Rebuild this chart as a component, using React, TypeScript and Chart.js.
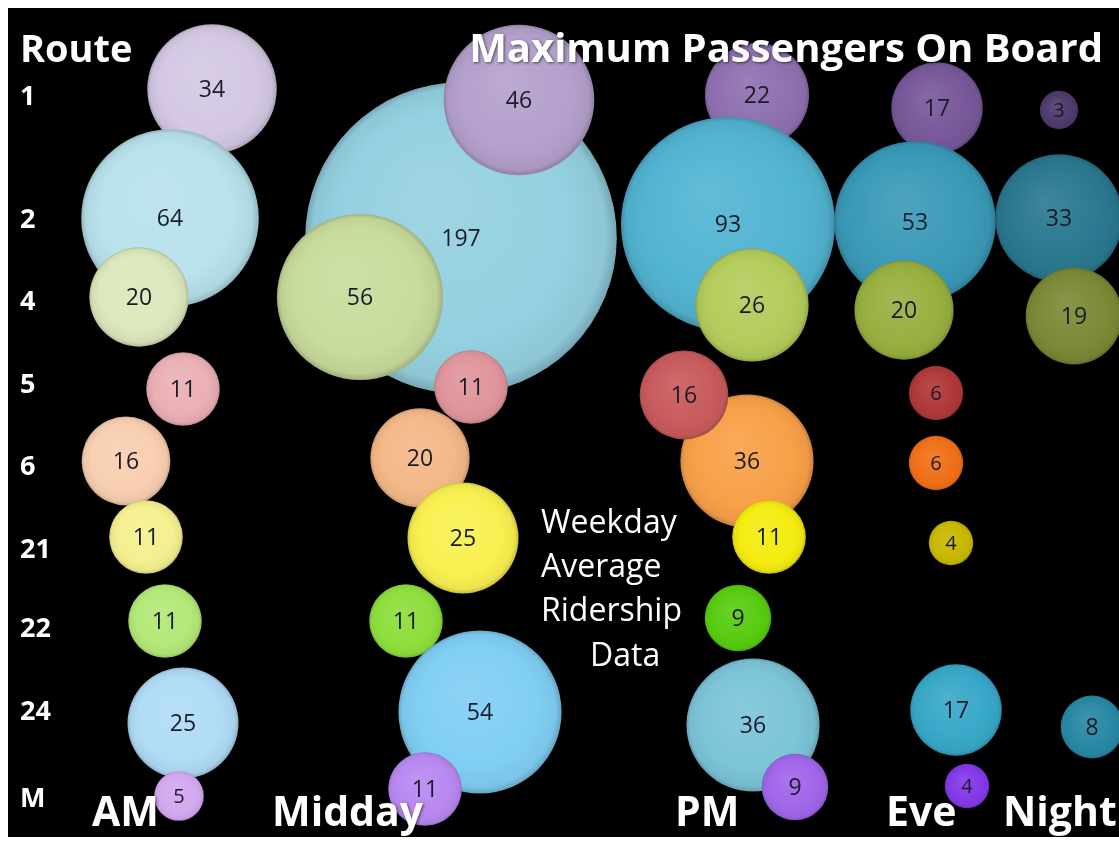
import React, { useEffect, useRef } from 'react';
import { Chart, registerables } from 'chart.js';

Chart.register(...registerables);

// ---- Categories / tick labels ----
const periods = ['AM', 'Midday', 'PM', 'Eve', 'Night'];
const routes = ['1', '2', '4', '5', '6', '21', '22', '24', 'M'];
const noteLines = ['Weekday', 'Average', 'Ridership', 'Data'];

// ---- Maximum passengers on board per route, by period (null = none) ----
const route1 = [34, 46, 22, 17, 3];
const route2 = [64, 197, 93, 53, 33];
const route4 = [20, 56, 26, 20, 19];
const route5 = [11, 11, 16, 6, null];
const route6 = [16, 20, 36, 6, null];
const route21 = [11, 25, 11, 4, null];
const route22 = [11, 11, 9, null, null];
const route24 = [25, 54, 36, 17, 8];
const routeM = [5, 11, 9, 4, null];

// ---- Bubble placement (x: across the day, y: down the route list) ----
const route1X = [2.04, 5.11, 7.49, 9.29, 10.51];
const route1Y = [0.81, 0.92, 0.87, 1.0, 1.02];
const route2X = [1.62, 4.53, 7.2, 9.07, 10.51];
const route2Y = [2.1, 2.3, 2.16, 2.14, 2.1];
const route4X = [1.31, 3.52, 7.44, 8.96, 10.66];
const route4Y = [2.89, 2.89, 2.97, 3.02, 3.08];
const route5X = [1.75, 4.63, 6.76, 9.28, null];
const route5Y = [3.81, 3.79, 3.87, 3.85, null];
const route6X = [1.18, 4.12, 7.39, 9.28, null];
const route6Y = [4.53, 4.5, 4.53, 4.55, null];
const route21X = [1.38, 4.55, 7.61, 9.43, null];
const route21Y = [5.29, 5.3, 5.29, 5.35, null];
const route22X = [1.57, 3.98, 7.3, null, null];
const route22Y = [6.13, 6.13, 6.1, null, null];
const route24X = [1.75, 4.72, 7.45, 9.48, 10.84];
const route24Y = [7.15, 7.04, 7.17, 7.02, 7.19];
const routeMX = [1.71, 4.17, 7.87, 9.59, null];
const routeMY = [7.88, 7.81, 7.79, 7.78, null];

// row label (tick) positions on the y axis, period label positions on x
const routeTickY = [0.87, 2.1, 2.92, 3.75, 4.57, 5.4, 6.19, 7.02, 7.89];
const periodTickX = [0.84, 2.64, 6.67, 8.78, 9.95];

const routeValues = [route1, route2, route4, route5, route6, route21, route22, route24, routeM];
const routeXs = [route1X, route2X, route4X, route5X, route6X, route21X, route22X, route24X, routeMX];
const routeYs = [route1Y, route2Y, route4Y, route5Y, route6Y, route21Y, route22Y, route24Y, routeMY];

// ---- Styles ----
const palette: string[][] = [
  ['#d4c8e2', '#b4a0cc', '#8e70b0', '#77589a', '#4e3a6c'],
  ['#b8e2ec', '#94d0e0', '#52b4d2', '#3a9ab8', '#2a7890'],
  ['#dde8bc', '#c8dc9c', '#b4cc5c', '#98b040', '#7a8a36'],
  ['#eab0b4', '#e0959c', '#c85a5c', '#b03838', '#902020'],
  ['#f8cfb0', '#f4b888', '#f8a048', '#f07018', '#c05010'],
  ['#f4f090', '#f8f050', '#f4ec10', '#c8b800', '#a09000'],
  ['#b4e878', '#8ede3c', '#58cc10', '#40a000', '#308000'],
  ['#b0dcf6', '#80cef4', '#7cc4d8', '#38a8c8', '#2888a4'],
  ['#d4a8f0', '#b888f0', '#a066e8', '#8438e8', '#6020c0'],
];
// drawing order exceptions: [routeIndex, periodIndex, layer]
const layerOverrides: [number, number, number][] = [
  [1, 1, -1],
  [4, 2, 2.5],
];
const RADIUS_PER_SQRT = 11.1;
const FONT = '"Open Sans", sans-serif';

function shade(hex: string, amt: number): string {
  const n = parseInt(hex.slice(1), 16);
  let r = (n >> 16) & 255, g = (n >> 8) & 255, b = n & 255;
  if (amt >= 0) {
    r = r + (255 - r) * amt; g = g + (255 - g) * amt; b = b + (255 - b) * amt;
  } else {
    r = r * (1 + amt); g = g * (1 + amt); b = b * (1 + amt);
  }
  return `rgb(${Math.round(r)},${Math.round(g)},${Math.round(b)})`;
}

export default function App() {
  const ref = useRef<HTMLCanvasElement>(null);

  useEffect(() => {
    const canvas = ref.current;
    if (!canvas) return;

    const points: any[] = [];
    routeValues.forEach((vals, ri) => {
      vals.forEach((v, pi) => {
        if (v == null) return;
        const ov = layerOverrides.find((o) => o[0] === ri && o[1] === pi);
        points.push({
          x: routeXs[ri][pi],
          y: routeYs[ri][pi],
          r: RADIUS_PER_SQRT * Math.sqrt(v),
          v,
          ri,
          pi,
          layer: ov ? ov[2] : ri,
        });
      });
    });
    points.sort((a, b) => a.layer - b.layer);

    const labelPlugin = {
      id: 'bubbleLabels',
      afterDatasetsDraw(chart: any) {
        const ctx = chart.ctx;
        const meta = chart.getDatasetMeta(0);
        ctx.save();
        ctx.textAlign = 'center';
        ctx.textBaseline = 'middle';
        ctx.fillStyle = '#1a1b28';
        meta.data.forEach((el: any, i: number) => {
          const p = points[i];
          const size = p.r < 30 ? 20 : 23;
          ctx.font = `${size}px ${FONT}`;
          ctx.fillText(String(p.v), el.x, el.y + 1);
        });
        ctx.restore();
      },
    };

    const overlayPlugin = {
      id: 'overlayText',
      afterDraw(chart: any) {
        const ctx = chart.ctx;
        const xs = chart.scales.x;
        const ys = chart.scales.y;
        ctx.save();
        ctx.fillStyle = '#ffffff';
        ctx.shadowColor = 'rgba(0,0,0,0.6)';
        ctx.shadowBlur = 3;
        ctx.shadowOffsetX = 1;
        ctx.shadowOffsetY = 1;
        ctx.textBaseline = 'alphabetic';

        ctx.textAlign = 'left';
        ctx.font = `bold 38px ${FONT}`;
        ctx.fillText('Route', 12, 54);

        ctx.textAlign = 'right';
        ctx.font = `bold 40px ${FONT}`;
        ctx.fillText('Maximum Passengers On Board', 1095, 54);

        ctx.textAlign = 'left';
        ctx.font = `bold 27px ${FONT}`;
        routes.forEach((r, i) => {
          ctx.fillText(r, 12, ys.getPixelForValue(routeTickY[i]) + 10);
        });

        ctx.font = `bold 41px ${FONT}`;
        periods.forEach((p, i) => {
          ctx.fillText(p, xs.getPixelForValue(periodTickX[i]), 818);
        });

        ctx.font = `32px ${FONT}`;
        const noteX = [533, 533, 533, 582];
        const noteBase = [525, 569, 613, 658];
        noteLines.forEach((t, i) => ctx.fillText(t, noteX[i], noteBase[i]));
        ctx.restore();
      },
    };

    const chart = new Chart(canvas, {
      type: 'bubble',
      data: {
        datasets: [
          {
            data: points,
            borderWidth: 0,
            clip: false,
            backgroundColor: (c: any) => {
              const p = c.raw;
              if (!p || c.type !== 'data') return '#888888';
              const base = palette[p.ri][p.pi];
              const ch = c.chart;
              const xs = ch.scales && ch.scales.x;
              const ys = ch.scales && ch.scales.y;
              if (!xs || !ys) return base;
              const cx = xs.getPixelForValue(p.x);
              const cy = ys.getPixelForValue(p.y);
              const r = p.r;
              if (!Number.isFinite(cx) || !Number.isFinite(cy) || !Number.isFinite(r)) return base;
              const g = ch.ctx.createRadialGradient(cx - r * 0.2, cy - r * 0.3, 0, cx, cy, r);
              g.addColorStop(0, shade(base, 0.1));
              g.addColorStop(0.75, base);
              g.addColorStop(0.94, shade(base, -0.05));
              g.addColorStop(1, shade(base, -0.2));
              return g;
            },
          } as any,
        ],
      },
      options: {
        responsive: false,
        animation: false,
        events: [],
        layout: { padding: 0, autoPadding: false },
        plugins: {
          legend: { display: false },
          tooltip: { enabled: false },
        },
        scales: {
          x: { type: 'linear', min: 0, max: 11.11, display: false },
          y: { type: 'linear', min: 0, max: 8.29, reverse: true, display: false },
        },
      },
      plugins: [labelPlugin, overlayPlugin],
    });

    return () => chart.destroy();
  }, []);

  return (
    <div
      style={{
        position: 'fixed',
        left: 8,
        top: 8,
        width: 1111,
        height: 829,
        background: '#000',
      }}
    >
      <canvas ref={ref} width={1111} height={829} style={{ display: 'block' }} />
    </div>
  );
}
